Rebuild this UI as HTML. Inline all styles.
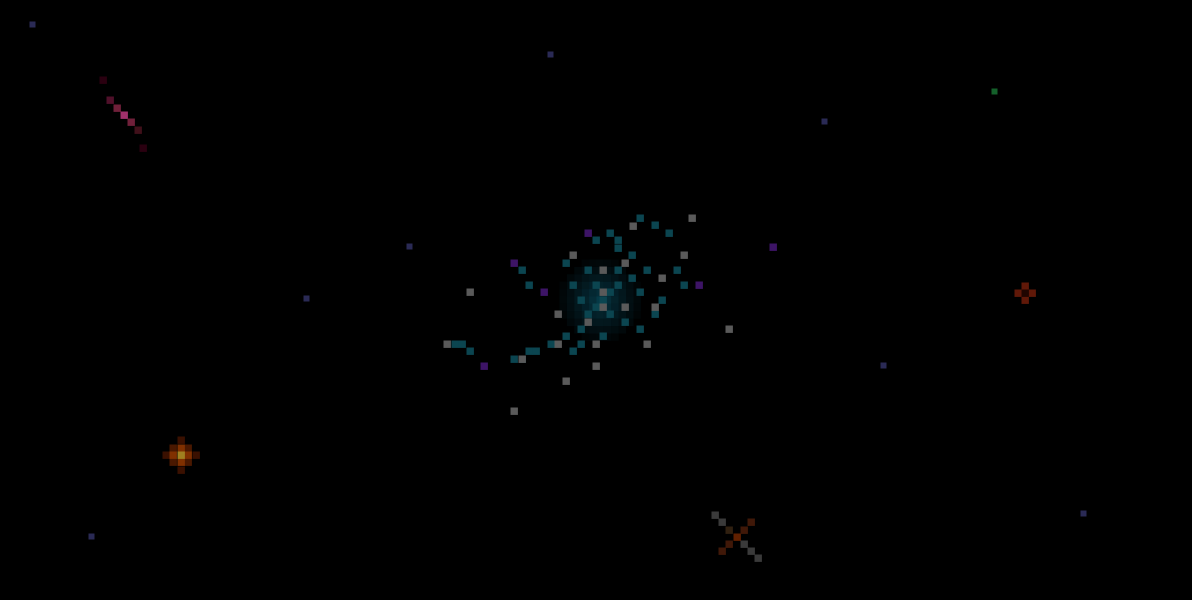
<!DOCTYPE html>
<html><head><meta charset="utf-8"><style>
html,body{margin:0;padding:0;background:#000;width:1192px;height:600px;overflow:hidden}
svg{display:block}
</style></head><body>
<svg id="sky" width="1192" height="600" viewBox="0 0 1192 600">
<rect width="1192" height="600" fill="#000"/>
<g id="g"></g>
</svg>
<script>
const grayStarsX=[633,692,573,684,625,603,662,470,603,603,625,655,558,588,729,447,558,596,647,522,596,566,514];
const grayStarsY=[226,218,255,255,263,270,278,292,292,307,307,307,314,322,329,344,344,344,344,359,366,381,411];
const purpleX=[588,514,544,699,484,773];
const purpleY=[233,263,292,285,366,247];
const blueX=[33,551,825,410,307,884,1084,92];
const blueY=[25,55,122,247,299,366,514,537];
const armX=[603,610,618,596,588,625,610,596,618,632,640,581,573,588,566,551,536,522,514,529,573,581,603,640,655,662,647,632,618,640,655,669,677,684,470,462,455,522,529,596,610,618,581,566];
const armY=[300,292,285,307,314,322,314,285,270,278,292,300,285,270,263,344,351,359,359,351,351,344,336,329,314,300,270,255,248,218,225,233,270,285,351,344,344,270,285,240,233,240,329,336];
const g=document.getElementById('g');
const NS='http://www.w3.org/2000/svg';
function cell(x,y,c,n,s){const r=document.createElementNS(NS,'rect');r.setAttribute('x',x-3.5);r.setAttribute('y',y-3.5);r.setAttribute('width',s||7.4);r.setAttribute('height',s||7.4);r.setAttribute('fill',c);


g.appendChild(r);}
// galaxy glow
for(let dx=-5;dx<=5;dx++)for(let dy=-5;dy<=5;dy++){const d=Math.hypot(dx,dy);if(d<5.5){const a=Math.max(0,0.55-d*0.09);cell(600+dx*7.4,300+dy*7.4,`rgba(10,${70+a*60|0},${90+a*70|0},${a})`,'galaxy-core');}}
armX.forEach((x,i)=>cell(x,armY[i],'#0b4550','galaxy-arm'));
grayStarsX.forEach((x,i)=>cell(x,grayStarsY[i],'#5a5a5a','gray-star'));
purpleX.forEach((x,i)=>cell(x,purpleY[i],'#3d1466','purple-star'));
blueX.forEach((x,i)=>cell(x,blueY[i],'#2a2a55','blue-star',6));
cell(995,92,'#14602a','green-star',6);
// red galaxy
[[103,80,'#2a0010'],[110,100,'#50102a'],[117,108,'#70203a'],[124,115,'#a0306a'],[131,122,'#70203a'],[138,130,'#40101a'],[143,148,'#2a0010']].forEach(p=>cell(p[0],p[1],p[2],'red-galaxy'));
// orange star
[[166,455,'#3a1000'],[173,448,'#4a1800'],[173,462,'#4a1800'],[188,448,'#4a1800'],[188,462,'#4a1800'],[173,455,'#803000'],[188,455,'#803000'],[181,448,'#803000'],[181,462,'#803000'],[181,455,'#a08020'],[196,455,'#3a1000'],[181,440,'#3a1000'],[181,470,'#3a1000']].forEach(p=>cell(p[0],p[1],p[2],'orange-star'));
// red ring
[[1018,293,'#601808'],[1032,293,'#601808'],[1025,286,'#601808'],[1025,300,'#601808'],[1025,293,'#200500']].forEach(p=>cell(p[0],p[1],p[2],'red-ring-star'));
// x object
[[715,515,'#3a3a3a'],[722,522,'#3a3a3a'],[729,530,'#302010'],[737,537,'#602000'],[744,544,'#3a3a3a'],[751,551,'#3a3a3a'],[758,558,'#3a3a3a'],[751,522,'#401808'],[744,530,'#401808'],[729,544,'#401808'],[722,551,'#401808']].forEach(p=>cell(p[0],p[1],p[2],'x-object'));
</script>
</body></html>
